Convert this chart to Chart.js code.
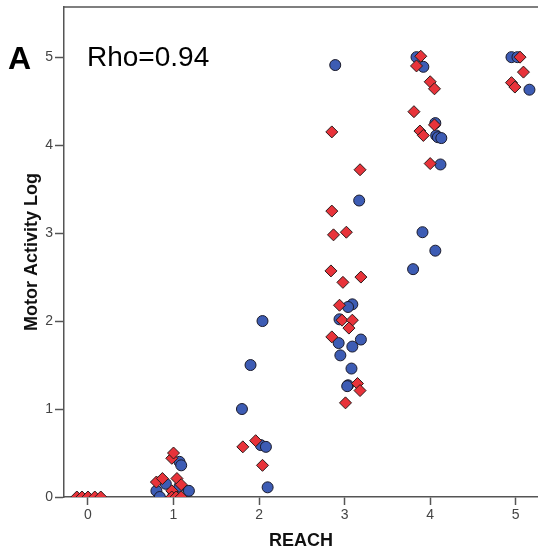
<!DOCTYPE html>
<html>
<head>
<meta charset="utf-8">
<style>
  html, body { margin: 0; padding: 0; background: #fff; overflow: hidden; }
  #wrap { width: 538px; height: 559px; }
</style>
</head>
<body>
<div id="wrap"><canvas id="chart" width="538" height="559"></canvas></div>

<script src="https://cdn.jsdelivr.net/npm/chart.js"></script>
<script>
// tick labels
var xTicks = [0, 1, 2, 3, 4, 5];
var yTicks = [0, 1, 2, 3, 4, 5];

// blue circles: REACH (jittered) and Motor Activity Log
var blueX = [0.80, 0.84, 0.91, 1.00, 1.07, 1.07, 1.09, 1.18,
             1.80, 1.90, 2.04, 2.02, 2.08, 2.10,
             2.89, 3.17, 3.09, 3.04, 2.94, 2.93, 3.09, 3.19, 2.95, 3.08, 3.04, 3.03,
             3.84, 3.92, 4.06, 4.07, 4.09, 4.13, 4.12, 3.91, 4.06, 3.80,
             4.95, 5.02, 5.16];
var blueY = [0.07, 0.00, 0.15, 0.02, 0.12, 0.40, 0.36, 0.07,
             1.00, 1.50, 2.00, 0.59, 0.57, 0.11,
             4.91, 3.37, 2.19, 2.16, 2.02, 1.75, 1.71, 1.79, 1.61, 1.46, 1.27, 1.26,
             5.00, 4.89, 4.25, 4.11, 4.09, 4.08, 3.78, 3.01, 2.80, 2.59,
             5.00, 5.00, 4.63];

// red diamonds
var redX = [-0.13, -0.07, 0.00, 0.08, 0.15,
            0.80, 0.87, 0.98, 1.00, 1.04, 1.09, 0.98, 0.98, 1.03, 1.09,
            1.81, 1.96, 2.04,
            2.85, 3.18, 2.85, 2.87, 3.02, 2.84, 2.98, 3.19, 2.94, 2.97, 3.09, 3.05, 2.85, 3.15, 3.18, 3.01,
            3.89, 3.84, 4.00, 4.05, 3.81, 4.05, 3.88, 3.92, 4.00,
            5.05, 5.09, 4.95, 4.99];
var redY = [0, 0, 0, 0, 0,
            0.17, 0.21, 0.44, 0.50, 0.21, 0.14, 0.07, 0.00, 0.00, 0.00,
            0.57, 0.64, 0.36,
            4.15, 3.72, 3.25, 2.98, 3.01, 2.57, 2.44, 2.50, 2.18, 2.01, 2.01, 1.92, 1.82, 1.29, 1.21, 1.07,
            5.01, 4.90, 4.72, 4.64, 4.38, 4.23, 4.16, 4.11, 3.79,
            5.00, 4.83, 4.71, 4.66];

function pts(xs, ys) {
  return xs.map(function(x, i) { return { x: x, y: ys[i] }; });
}

function noPad(s) {
  s.paddingLeft = 0; s.paddingRight = 0; s.paddingTop = 0; s.paddingBottom = 0;
}

var axisColor = '#555';
var tickFont = { family: '"Liberation Sans", Arial, sans-serif', size: 14 };

// panel letter, rho text and the top frame line
var extras = {
  id: 'extras',
  afterDraw: function(chart) {
    var ctx = chart.ctx, a = chart.chartArea;
    ctx.save();
    ctx.strokeStyle = axisColor;
    ctx.lineWidth = 1.5;
    ctx.beginPath();
    ctx.moveTo(a.left, a.top);
    ctx.lineTo(a.right, a.top);
    ctx.stroke();
    ctx.fillStyle = '#000';
    ctx.textBaseline = 'alphabetic';
    ctx.textAlign = 'left';
    ctx.font = 'bold 32px "Liberation Sans", Arial, sans-serif';
    ctx.fillText('A', 8, 69);
    ctx.font = '28px "Liberation Sans", Arial, sans-serif';
    ctx.fillText('Rho=0.94', 87, 66);
    ctx.restore();
  }
};

new Chart(document.getElementById('chart'), {
  type: 'scatter',
  data: {
    datasets: [{
      label: 'red',
      data: pts(redX, redY),
      pointStyle: 'rectRot',
      pointRadius: 6,
      pointHoverRadius: 6,
      backgroundColor: '#e8333a',
      borderColor: '#2a1a1a',
      borderWidth: 1,
      clip: 0
    }, {
      label: 'blue',
      data: pts(blueX, blueY),
      pointStyle: 'circle',
      pointRadius: 5.5,
      pointHoverRadius: 5.5,
      backgroundColor: '#3d5cb4',
      borderColor: '#1a1a2a',
      borderWidth: 1,
      clip: 0
    }]
  },
  options: {
    responsive: false,
    animation: false,
    layout: { autoPadding: false, padding: { top: 7, right: 0, left: 0, bottom: 0 } },
    plugins: { legend: { display: false }, tooltip: { enabled: false } },
    scales: {
      x: {
        type: 'linear',
        min: -0.28,
        max: 5.26,
        afterBuildTicks: function(s) { s.ticks = xTicks.map(function(v) { return { value: v }; }); },
        afterFit: function(s) { s.height = 62; noPad(s); },
        ticks: { color: '#444', font: tickFont, padding: 2 },
        grid: { drawOnChartArea: false, drawTicks: true, tickLength: 8, tickColor: axisColor, tickWidth: 1.5 },
        border: { display: true, color: axisColor, width: 1.5 },
        title: {
          display: true,
          text: 'REACH',
          color: '#111',
          font: { family: '"Liberation Sans", Arial, sans-serif', size: 18, weight: 'bold' },
          padding: { top: 0, bottom: 7 }
        }
      },
      y: {
        type: 'linear',
        min: 0,
        max: 5.57,
        afterBuildTicks: function(s) { s.ticks = yTicks.map(function(v) { return { value: v }; }); },
        afterFit: function(s) { s.width = 64; noPad(s); },
        ticks: { color: '#444', font: tickFont, padding: 2 },
        grid: { drawOnChartArea: false, drawTicks: true, tickLength: 9, tickColor: axisColor, tickWidth: 1.5 },
        border: { display: true, color: axisColor, width: 1.5 },
        title: {
          display: true,
          text: 'Motor Activity Log',
          color: '#111',
          font: { family: '"Liberation Sans", Arial, sans-serif', size: 18, weight: 'bold' },
          padding: { top: 21, bottom: 0 }
        }
      }
    }
  },
  plugins: [extras]
});
</script>
</body>
</html>
